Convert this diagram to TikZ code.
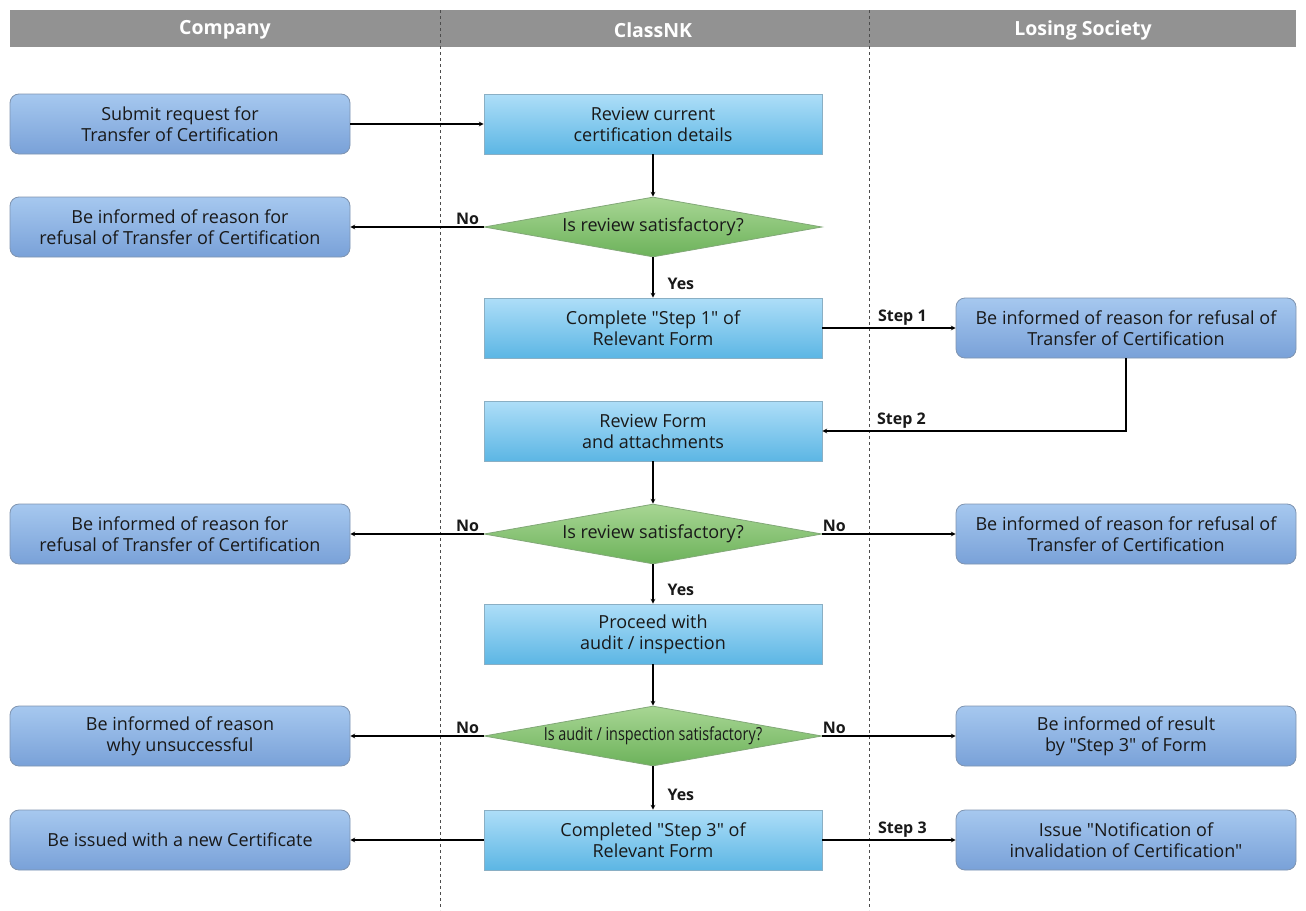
\documentclass[tikz,border=0pt]{standalone}
\usepackage{fontspec}
\setmainfont{Open Sans}[Ligatures=TeXOff]
\usetikzlibrary{shapes.geometric, arrows}
\definecolor{bandgray}{HTML}{929292}
\definecolor{roundtop}{HTML}{A6C8EF}
\definecolor{roundbot}{HTML}{79A1D8}
\definecolor{roundline}{HTML}{7F94B0}
\definecolor{recttop}{HTML}{AEDEF8}
\definecolor{rectbot}{HTML}{5CB6E4}
\definecolor{rectline}{HTML}{8AAFC4}
\definecolor{dectop}{HTML}{A8D694}
\definecolor{decbot}{HTML}{6CB25A}
\definecolor{decline}{HTML}{82A878}
\newcommand{\dtxt}[2][1]{\makebox[0pt]{\scalebox{#1}[1]{#2}}}

\begin{document}
\begin{tikzpicture}[
    ->,
    >=stealth,
    x=1pt,
    y=-1pt,
    line width=1.1pt,
    every node/.style={align=center, text=black!90, font=\fontsize{18}{21}\selectfont},
    party/.style={draw=roundline, line width=0.8pt, rounded corners=9pt,
        top color=roundtop, bottom color=roundbot,
        minimum width=340, minimum height=60, inner sep=0pt},
    task/.style={draw=rectline, line width=0.8pt,
        top color=recttop, bottom color=rectbot,
        minimum width=338, minimum height=60, inner sep=0pt},
    check/.style={diamond, draw=decline, line width=0.8pt,
        top color=dectop, bottom color=decbot,
        minimum width=338, minimum height=60, inner sep=0pt},
    lane/.style={text=white, font=\bfseries\fontsize{19.5}{22}\selectfont},
    tag/.style={font=\bfseries\fontsize{16}{18}\selectfont, inner sep=2pt}
]
    \useasboundingbox (0,0) rectangle (1306,910);

    % lane headers
    \fill[bandgray] (10,10) rectangle (1296,47);
    \node[lane] (h1) at (225,30) {Company};
    \node[lane] (h2) at (653,30) {ClassNK};
    \node[lane] (h3) at (1083,30) {Losing Society};
    \draw[-, dashed, line width=0.7pt, black!70] (440,10) -- (440,910);
    \draw[-, dashed, line width=0.7pt, black!70] (869,10) -- (869,910);

    % Company
    \node[party] (c1) at (180,124) {Submit request for\\Transfer of Certification};
    \node[party] (c2) at (180,227) {Be informed of reason for\\refusal of Transfer of Certification};
    \node[party] (c3) at (180,534) {Be informed of reason for\\refusal of Transfer of Certification};
    \node[party] (c4) at (180,736) {Be informed of reason\\why unsuccessful};
    \node[party] (c5) at (180,840) {Be issued with a new Certificate};

    % ClassNK
    \node[task] (k1) at (653,124) {Review current\\certification details};
    \node[check] (k2) at (653,227) {\dtxt{Is review satisfactory?}};
    \node[task] (k3) at (653,328) {Complete "Step 1" of\\Relevant Form};
    \node[task] (k4) at (653,431) {Review Form\\and attachments};
    \node[check] (k5) at (653,534) {\dtxt{Is review satisfactory?}};
    \node[task] (k6) at (653,634) {Proceed with\\audit / inspection};
    \node[check] (k7) at (653,736) {\dtxt[0.8]{Is audit / inspection satisfactory?}};
    \node[task] (k8) at (653,840) {Completed "Step 3" of\\Relevant Form};

    % Losing Society
    \node[party] (l1) at (1126,328) {Be informed of reason for refusal of\\Transfer of Certification};
    \node[party] (l2) at (1126,534) {Be informed of reason for refusal of\\Transfer of Certification};
    \node[party] (l3) at (1126,736) {Be informed of result\\by "Step 3" of Form};
    \node[party] (l4) at (1126,840) {Issue "Notification of\\invalidation of Certification"};

    \draw (c1) edge (k1);
    \draw (k1) edge (k2);
    \draw (k2) edge node[tag, above, pos=0.12]{No} (c2);
    \draw (k2) edge node[tag, right, pos=0.65, xshift=12pt]{Yes} (k3);
    \draw (k3) edge node[tag, above, pos=0.6]{Step 1} (l1);
    \draw (l1.south) |- node[tag, above, pos=0.87]{Step 2} (k4.east);
    \draw (k4) edge (k5);
    \draw (k5) edge node[tag, above, pos=0.12]{No} (c3);
    \draw (k5) edge node[tag, above, pos=0.09]{No} (l2);
    \draw (k5) edge node[tag, right, pos=0.65, xshift=12pt]{Yes} (k6);
    \draw (k6) edge (k7);
    \draw (k7) edge node[tag, above, pos=0.12]{No} (c4);
    \draw (k7) edge node[tag, above, pos=0.09]{No} (l3);
    \draw (k7) edge node[tag, right, pos=0.65, xshift=12pt]{Yes} (k8);
    \draw (k8) edge (c5);
    \draw (k8) edge node[tag, above, pos=0.6]{Step 3} (l4);
\end{tikzpicture}
\end{document}
